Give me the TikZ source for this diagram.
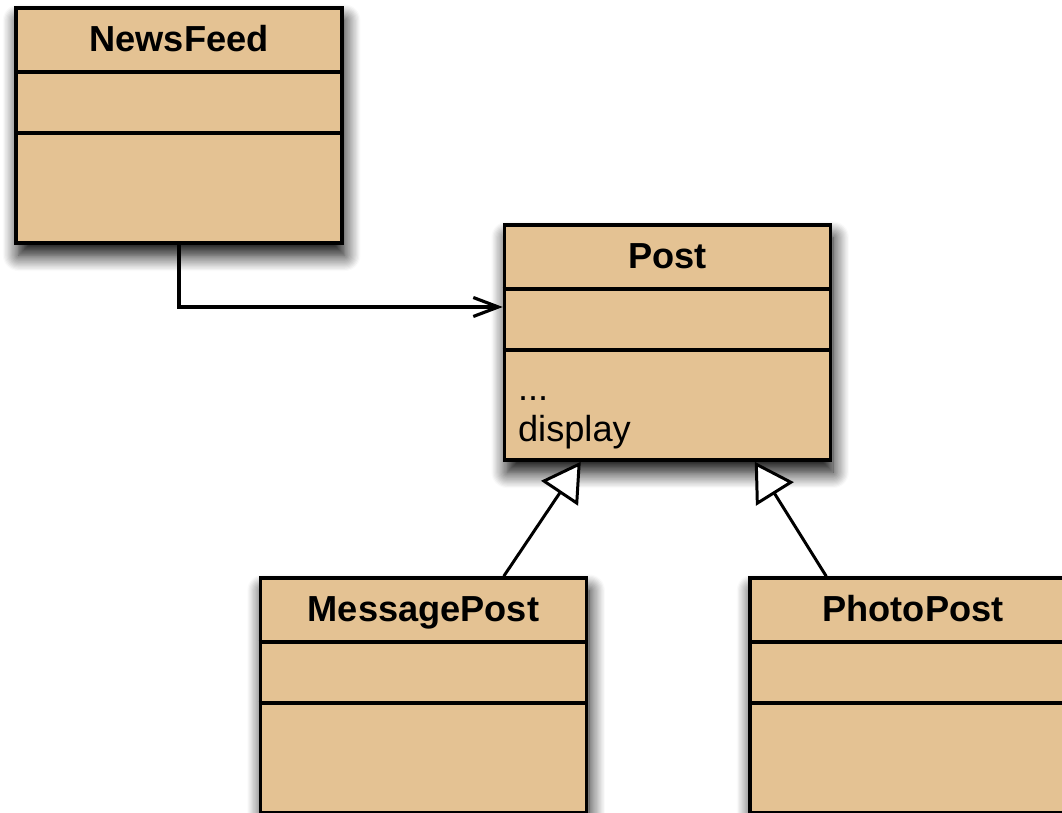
\documentclass[tikz,border=0pt]{standalone}
\usepackage{fontspec}
\setmainfont{Liberation Sans}
\usetikzlibrary{arrows.meta,shadows.blur}

\definecolor{classfill}{RGB}{228,194,147}

\begin{document}
\begin{tikzpicture}[
    classbox/.style={draw, line width=2pt, fill=classfill, rectangle,
                     minimum width=6.52cm, minimum height=4.7cm,
                     inner sep=0pt,
                     blur shadow={shadow xshift=1.5pt, shadow yshift=-7pt,
                                  shadow blur radius=9pt, shadow blur steps=14,
                                  shadow opacity=100}},
    classname/.style={font=\fontsize{20.6}{24}\selectfont\bfseries, inner sep=0pt, anchor=base},
    member/.style={font=\fontsize{20.6}{23.5}\selectfont, align=left, inner sep=0pt},
    divider/.style={line width=2pt},
    usesline/.style={line width=1.8pt, -{Straight Barb[length=0.5cm, width=0.38cm]}},
    inherit/.style={line width=1.7pt, -{Triangle[fill=white, length=0.76cm, width=0.88cm]}}
]
\useasboundingbox (0,0) rectangle (21.24,16.24);
\clip (0,0) rectangle (21.24,16.24);

% Klassen
\node[classbox] (newsfeed) at (3.58,13.73) {};
\node[classbox] (post)     at (13.35,9.39) {};
\node[classbox] (msgpost)  at (8.47,2.33)  {};
\node[classbox] (photopost) at (18.26,2.33) {};

% Namen und Trennlinien
\foreach \cls/\name in {newsfeed/NewsFeed, post/Post, msgpost/MessagePost, photopost/PhotoPost} {
    \node[classname] (\cls-name) at ([yshift=-0.9cm]\cls.north) {\name};
    \draw[divider] ([yshift=-1.32cm]\cls.north west) -- ([yshift=-1.32cm]\cls.north east);
    \draw[divider] ([yshift=-2.54cm]\cls.north west) -- ([yshift=-2.54cm]\cls.north east);
}

% Methoden von Post
\node[member, anchor=north west] (post-methods) at ([xshift=0.3cm, yshift=-3.46cm]post.north west) {...\\display};

% NewsFeed -> Post
\coordinate (postin) at ([yshift=0.71cm]post.west);
\draw[usesline] (newsfeed.south) |- (postin);

% Vererbung
\draw[inherit] ([xshift=4.9cm]msgpost.north west) -- ([xshift=1.56cm]post.south west);
\draw[inherit] ([xshift=1.56cm]photopost.north west) -- ([xshift=5.04cm]post.south west);

\end{tikzpicture}
\end{document}
